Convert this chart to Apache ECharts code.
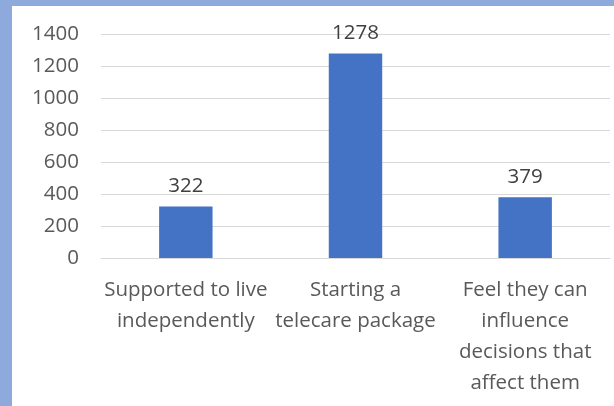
<!DOCTYPE html>
<html><head><meta charset="utf-8">
<script src="https://cdn.jsdelivr.net/npm/echarts@6/dist/echarts.min.js"></script>
<style>
html,body{margin:0;padding:0;background:#8EA9DB;}
#frame{position:absolute;left:12px;top:6px;width:602px;height:400px;background:#fff;}
#c{position:absolute;left:-12px;top:-6px;width:614px;height:406px;}
</style></head>
<body><div id="frame"><div id="c"></div></div>
<script>
const categories = ["Supported to live\nindependently", "Starting a\ntelecare package", "Feel they can\ninfluence\ndecisions that\naffect them"];
const values = [322, 1278, 379];
const yTicks = [0, 200, 400, 600, 800, 1000, 1200, 1400];

const chart = echarts.init(document.getElementById('c'), null, {renderer:'canvas'});
const font = '"Open Sans", "Noto Sans", sans-serif';
chart.setOption({
  animation:false,
  grid:{left:101, right:4, top:34, bottom:148, containLabel:false},
  xAxis:{type:'category', data:categories,
    axisLine:{show:true, lineStyle:{color:'#D9D9D9', width:1}},
    axisTick:{show:false},
    axisLabel:{color:'#595959', fontFamily:font, fontSize:20.5, lineHeight:31, margin:17, interval:0}
  },
  yAxis:{type:'value', min:yTicks[0], max:yTicks[yTicks.length-1], interval:200,
    axisLine:{show:false}, axisTick:{show:false},
    splitLine:{lineStyle:{color:'#D9D9D9', width:1}},
    axisLabel:{color:'#595959', fontFamily:font, fontSize:20.5, margin:22, formatter:v=>String(v)}
  },
  series:[{type:'bar', data:values, barWidth:'31.5%',
    itemStyle:{color:'#4472C4'},
    label:{show:true, position:'top', distance:10, color:'#404040', fontFamily:font, fontSize:20.5}
  }]
});
</script></body></html>
